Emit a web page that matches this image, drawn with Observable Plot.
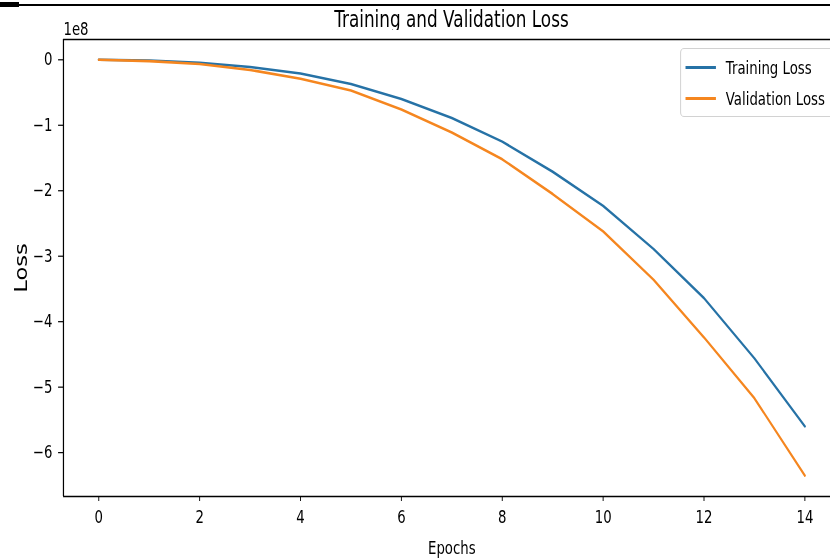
<!DOCTYPE html>
<html>
<head>
<meta charset="utf-8">
<script src="https://cdn.jsdelivr.net/npm/d3@7"></script>
<script src="https://cdn.jsdelivr.net/npm/@observablehq/plot@0.6"></script>
<style>
  html, body { margin: 0; padding: 0; background: white; overflow: hidden; }
  body { width: 830px; height: 560px; position: relative; font-family: "DejaVu Sans", sans-serif; }
  #clip { position: absolute; left: 0; top: 0; width: 830px; height: 560px; overflow: hidden; }
  #wrap { position: absolute; left: 0; top: 0; width: 1120px; height: 560px; transform: scaleX(0.76); transform-origin: 0 0; }
  #title { position: relative; top: 3.5px; height: 30px; line-height: 30px; padding-left: 83px; width: 1022px; text-align: center; font-size: 22.2px; color: #000; }
  #legend { position: absolute; left: 895px; top: 48px; width: 300px; height: 69px; border: 1px solid #cccccc; border-radius: 5px; background: rgba(255,255,255,0.8); box-sizing: border-box; padding-top: 3px; }
  .row { display: flex; align-items: center; height: 31px; font-size: 17.5px; color: #000; }
  .handle { width: 40px; height: 2.6px; margin-left: 6px; margin-right: 13px; }
  #topline { position: absolute; left: 0; top: 4px; width: 830px; height: 1.5px; background: #000; }
  #topblock { position: absolute; left: 0; top: 2px; width: 19px; height: 5px; background: #000; }
</style>
</head>
<body>
<div id="clip">
<div id="wrap">
  <div id="title">Training and Validation Loss</div>
  <div id="chart" style="position:absolute; left:0; top:30px;"></div>
  <div id="legend"></div>
</div>
</div>
<div id="topline"></div>
<div id="topblock"></div>
<script>
const epochs = [0, 1, 2, 3, 4, 5, 6, 7, 8, 9, 10, 11, 12, 13, 14];
const trainingLoss = [0.0, -0.01e8, -0.045e8, -0.11e8, -0.21e8, -0.37e8, -0.60e8, -0.89e8, -1.25e8, -1.71e8, -2.23e8, -2.89e8, -3.64e8, -4.56e8, -5.60e8];
const validationLoss = [0.0, -0.02e8, -0.065e8, -0.155e8, -0.29e8, -0.47e8, -0.76e8, -1.11e8, -1.52e8, -2.05e8, -2.62e8, -3.36e8, -4.24e8, -5.17e8, -6.35e8];
const seriesNames = ["Training Loss", "Validation Loss"];
const seriesColors = ["#2672a6", "#f5861f"];
const xTicks = [0, 2, 4, 6, 8, 10, 12, 14];
const yTicks = [0, -1e8, -2e8, -3e8, -4e8, -5e8, -6e8];
const xDomain = [-0.7, 14.7];
const yDomain = [-6.67e8, 0.31e8];

const rows = [];
epochs.forEach((e, i) => {
  rows.push({epoch: e, loss: trainingLoss[i], series: seriesNames[0]});
});
epochs.forEach((e, i) => {
  rows.push({epoch: e, loss: validationLoss[i], series: seriesNames[1]});
});

const fmt = d3.format("d");
const chart = Plot.plot({
  width: 1120,
  height: 530,
  marginTop: 9,
  marginBottom: 64,
  marginLeft: 83,
  marginRight: 15,
  style: {fontFamily: "DejaVu Sans", fontSize: "17.5px", background: "white", color: "#000", overflow: "visible"},
  x: {domain: xDomain},
  y: {domain: yDomain},
  color: {domain: seriesNames, range: seriesColors},
  marks: [
    Plot.line(rows, {x: "epoch", y: "loss", z: "series", stroke: "series", strokeWidth: 2.6, strokeLinejoin: "round"}),
    Plot.axisX({ticks: xTicks, tickFormat: d => fmt(d), tickSize: 5, tickPadding: 9, label: null, fontSize: 17.5, strokeWidth: 1.2}),
    Plot.axisY({ticks: yTicks, tickFormat: d => fmt(d / 1e8), tickSize: 6.6, tickPadding: 8, label: null, fontSize: 17.5, strokeWidth: 1.2}),
    Plot.ruleX([xDomain[0]], {stroke: "#000", strokeWidth: 1.6}),
    Plot.ruleY(yDomain, {stroke: "#000", strokeWidth: 1.3}),
    Plot.text(["1e8"], {frameAnchor: "top-left", textAnchor: "start", lineAnchor: "bottom", dy: -5, fontSize: 17.5, fill: "#000"}),
    Plot.text(["Loss"], {frameAnchor: "left", textAnchor: "middle", lineAnchor: "middle", rotate: -90, dx: -55, fontSize: 22.6, fill: "#000"}),
    Plot.text(["Epochs"], {frameAnchor: "bottom", textAnchor: "middle", lineAnchor: "middle", dy: 52, fontSize: 17.5, fill: "#000"})
  ]
});
document.getElementById("chart").appendChild(chart);

const legend = document.getElementById("legend");
seriesNames.forEach((name, i) => {
  const row = document.createElement("div");
  row.className = "row";
  const h = document.createElement("span");
  h.className = "handle";
  h.style.background = seriesColors[i];
  const t = document.createElement("span");
  t.textContent = name;
  row.appendChild(h);
  row.appendChild(t);
  legend.appendChild(row);
});
</script>
</body>
</html>
